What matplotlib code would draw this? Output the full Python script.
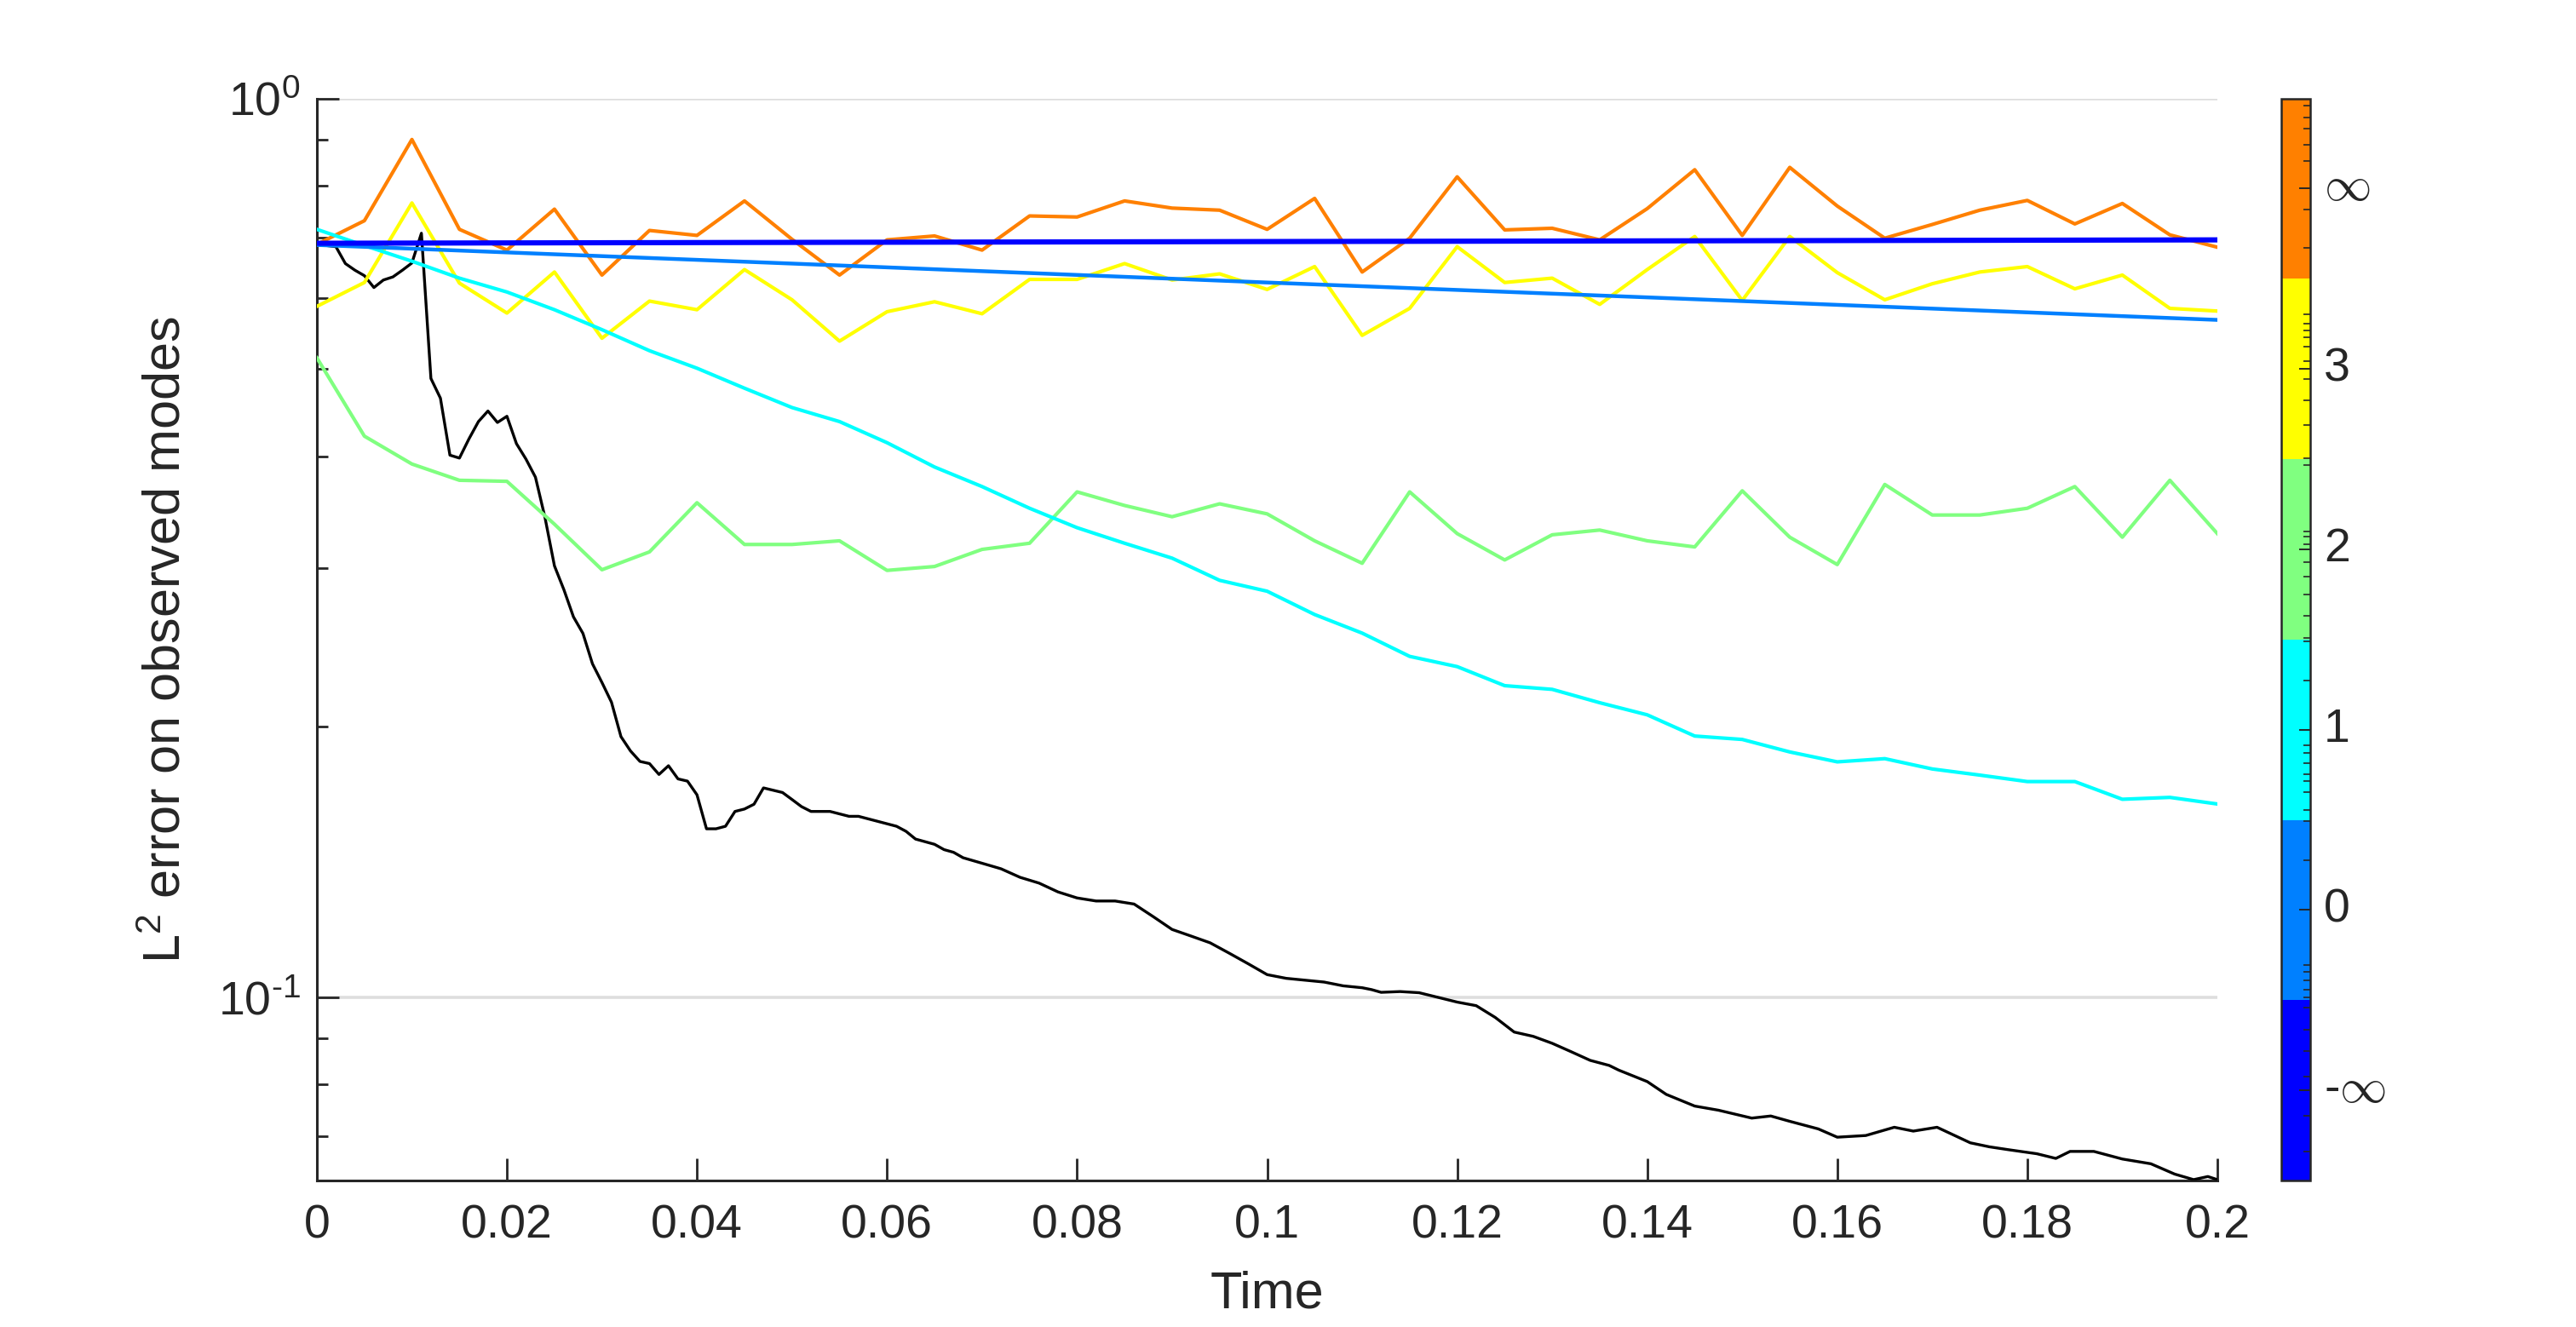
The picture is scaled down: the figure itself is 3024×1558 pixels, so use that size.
import numpy as np
import matplotlib
matplotlib.use("Agg")
import matplotlib.pyplot as plt
from matplotlib.colors import ListedColormap, BoundaryNorm
from matplotlib.cm import ScalarMappable
from matplotlib.ticker import FixedLocator, NullFormatter, LogLocator

plt.rcParams['font.family'] = ['Liberation Sans', 'DejaVu Sans']
plt.rcParams['mathtext.fontset'] = 'custom'
plt.rcParams['mathtext.rm'] = 'Liberation Sans'
plt.rcParams['mathtext.it'] = 'Liberation Sans:italic'
plt.rcParams['mathtext.bf'] = 'Liberation Sans:bold'

# ---------------- data ----------------
t_coarse = np.round(np.arange(41) * 0.005, 3)

err_inf = [0.688, 0.731, 0.900, 0.715, 0.678, 0.753, 0.636, 0.713, 0.704, 0.769,
           0.697, 0.636, 0.696, 0.703, 0.678, 0.740, 0.738, 0.769, 0.755, 0.751,
           0.715, 0.774, 0.641, 0.699, 0.818, 0.714, 0.717, 0.696, 0.754, 0.833,
           0.704, 0.838, 0.759, 0.699, 0.724, 0.751, 0.770, 0.725, 0.764, 0.705, 0.683]
err_3 = [0.587, 0.624, 0.765, 0.623, 0.577, 0.641, 0.541, 0.595, 0.582, 0.645,
         0.597, 0.537, 0.579, 0.594, 0.576, 0.629, 0.629, 0.655, 0.628, 0.638,
         0.613, 0.650, 0.545, 0.584, 0.684, 0.624, 0.631, 0.590, 0.645, 0.702,
         0.596, 0.702, 0.640, 0.597, 0.622, 0.641, 0.650, 0.614, 0.636, 0.584, 0.580]
err_2 = [0.5145, 0.421, 0.392, 0.376, 0.375, 0.336, 0.299, 0.313, 0.355, 0.319,
         0.319, 0.322, 0.2985, 0.3015, 0.315, 0.320, 0.365, 0.3525, 0.3425, 0.354,
         0.345, 0.322, 0.304, 0.365, 0.328, 0.3066, 0.327, 0.331, 0.322, 0.317,
         0.366, 0.325, 0.303, 0.372, 0.344, 0.344, 0.350, 0.370, 0.325, 0.376, 0.328]
err_1 = [0.715, 0.686, 0.659, 0.631, 0.609, 0.582, 0.553, 0.524, 0.501, 0.476,
         0.453, 0.437, 0.414, 0.389, 0.370, 0.350, 0.333, 0.320, 0.308, 0.291,
         0.283, 0.2666, 0.2542, 0.2395, 0.2333, 0.2222, 0.2201, 0.2127, 0.2062, 0.1953,
         0.1936, 0.1875, 0.1828, 0.1843, 0.1795, 0.1767, 0.1738, 0.1738, 0.1661, 0.1669, 0.1641]

t_0 = [0.0, 0.05, 0.1, 0.15, 0.2]
err_0 = [0.687, 0.655, 0.624, 0.595, 0.567]

t_minf = [0.0, 0.1, 0.2]
err_minf = [0.690, 0.693, 0.696]

t_black = [0.000, 0.001, 0.002, 0.003, 0.004, 0.005, 0.006, 0.007, 0.008, 0.009,
           0.010, 0.011, 0.012, 0.013, 0.014, 0.015, 0.016, 0.017, 0.018, 0.019,
           0.020, 0.021, 0.022, 0.023, 0.024, 0.025, 0.026, 0.027, 0.028, 0.029,
           0.030, 0.031, 0.032, 0.033, 0.034, 0.035, 0.036, 0.037, 0.038, 0.039,
           0.040, 0.041, 0.042, 0.043, 0.044, 0.045, 0.046, 0.047, 0.048, 0.049,
           0.050, 0.051, 0.052, 0.053, 0.054, 0.055, 0.056, 0.057, 0.058, 0.059,
           0.060, 0.061, 0.062, 0.063, 0.064, 0.065, 0.066, 0.067, 0.068, 0.069,
           0.070, 0.071, 0.072, 0.074, 0.076, 0.078, 0.080, 0.082, 0.084, 0.086,
           0.088, 0.090, 0.092, 0.094, 0.096, 0.098, 0.100, 0.102, 0.104, 0.106,
           0.108, 0.110, 0.111, 0.112, 0.114, 0.116, 0.118, 0.120, 0.122, 0.124,
           0.126, 0.128, 0.130, 0.132, 0.134, 0.136, 0.137, 0.140, 0.142, 0.145,
           0.1475, 0.151, 0.153, 0.155, 0.158, 0.160, 0.163, 0.166, 0.168, 0.1705,
           0.174, 0.176, 0.178, 0.181, 0.183, 0.1845, 0.187, 0.190, 0.193, 0.1955,
           0.1975, 0.199, 0.200]
err_black = [0.688, 0.686, 0.684, 0.655, 0.644, 0.635, 0.616, 0.628, 0.633, 0.644,
             0.656, 0.708, 0.488, 0.464, 0.401, 0.398, 0.418, 0.437, 0.449, 0.436,
             0.443, 0.413, 0.397, 0.379, 0.342, 0.302, 0.284, 0.265, 0.254, 0.235,
             0.224, 0.213, 0.195, 0.188, 0.183, 0.182, 0.177, 0.181, 0.175, 0.174,
             0.168, 0.154, 0.154, 0.155, 0.161, 0.162, 0.164, 0.171, 0.170, 0.169,
             0.166, 0.163, 0.161, 0.161, 0.161, 0.160, 0.159, 0.159, 0.158, 0.157,
             0.156, 0.155, 0.153, 0.150, 0.149, 0.148, 0.146, 0.145, 0.143, 0.142,
             0.141, 0.140, 0.139, 0.136, 0.134, 0.131, 0.129, 0.128, 0.128, 0.127,
             0.123, 0.119, 0.117, 0.115, 0.112, 0.109, 0.106, 0.105, 0.1045, 0.104,
             0.103, 0.1025, 0.102, 0.1013, 0.1015, 0.1012, 0.1000, 0.0988, 0.0979, 0.0950,
             0.0915, 0.0905, 0.0889, 0.0870, 0.0851, 0.0840, 0.0830, 0.0806, 0.0780, 0.0757,
             0.0749, 0.0734, 0.0738, 0.0728, 0.0714, 0.0699, 0.0702, 0.0717, 0.0710, 0.0717,
             0.0689, 0.0682, 0.0677, 0.0670, 0.0662, 0.0674, 0.0674, 0.0661, 0.0653, 0.0636,
             0.0627, 0.0632, 0.0627]

x_ticks = [0, 0.02, 0.04, 0.06, 0.08, 0.1, 0.12, 0.14, 0.16, 0.18, 0.2]
x_ticklabels = ['0', '0.02', '0.04', '0.06', '0.08', '0.1', '0.12', '0.14', '0.16', '0.18', '0.2']
cbar_labels = ['-$\\infty$', '0', '1', '2', '3', '$\\infty$']
cbar_colors = ['#0000ff', '#0080ff', '#00ffff', '#80ff80', '#ffff00', '#ff8000']
cbar_minor = [0.159, 0.359, 0.578, 0.718, 0.837, 0.957,
              1.017, 1.057, 1.108, 1.156, 1.196, 1.774, 1.994,
              2.053, 2.153, 2.213, 2.253, 2.313, 2.372, 2.412, 2.771, 2.990,
              3.010, 3.130, 3.250, 3.349, 3.429, 3.529, 3.569, 3.600, 3.967,
              4.007, 4.187, 4.326, 4.446, 4.545, 4.625, 4.673, 4.713, 4.753, 4.805,
              5.171, 5.383, 5.654, 5.742, 5.833, 5.893, 5.961]

# ---------------- figure ----------------
W, H = 3024, 1558
DPI = 200
fig = plt.figure(figsize=(W / DPI, H / DPI), dpi=DPI)
fig.patch.set_facecolor('white')

ax_l, ax_r, ax_t, ax_b = 372, 2603, 115.5, 1386
ax = fig.add_axes([ax_l / W, 1 - ax_b / H, (ax_r - ax_l) / W, (ax_b - ax_t) / H])

dark = '#262626'
ax.plot(t_black, err_black, color='black', lw=1.2, zorder=3)
ax.plot(t_coarse, err_inf, color=cbar_colors[5], lw=1.5, zorder=4)
ax.plot(t_coarse, err_3, color=cbar_colors[4], lw=1.5, zorder=4)
ax.plot(t_coarse, err_2, color=cbar_colors[3], lw=1.5, zorder=4)
ax.plot(t_coarse, err_1, color=cbar_colors[2], lw=1.5, zorder=4)
ax.plot(t_0, err_0, color=cbar_colors[1], lw=1.6, zorder=5)
ax.plot(t_minf, err_minf, color=cbar_colors[0], lw=2.2, zorder=6)

ax.set_yscale('log')
ax.set_xlim(0, 0.2)
ax.set_ylim(10 ** (-1.2037), 1.0)
ax.set_xticks(x_ticks)
ax.set_xticklabels(x_ticklabels)
ax.yaxis.set_major_locator(FixedLocator([0.1, 1.0]))
ax.yaxis.set_minor_locator(LogLocator(base=10, subs=np.arange(2, 10)))
ax.yaxis.set_minor_formatter(NullFormatter())
ax.set_yticklabels([r'$\mathdefault{10^{\text{-}1}}$', r'$\mathdefault{10^{0}}$'])

ax.grid(True, axis='y', which='major', color='#dedede', lw=1.3, zorder=0)
ax.set_axisbelow(True)
for s in ['top', 'right']:
    ax.spines[s].set_visible(False)
for s in ['left', 'bottom']:
    ax.spines[s].set_color(dark)
    ax.spines[s].set_linewidth(1.1)

ax.tick_params(axis='both', which='major', direction='in', length=9.4, width=1.0,
               color=dark, labelcolor=dark, labelsize=20)
ax.tick_params(axis='x', which='major', pad=10)
ax.tick_params(axis='y', which='major', pad=7)
ax.tick_params(axis='y', which='minor', direction='in', length=4.7, width=1.0, color=dark)
ax.tick_params(axis='x', which='minor', bottom=False)

ax.set_xlabel('Time', fontsize=22, color=dark)
ax.set_ylabel(r'$\mathregular{L^2}$ error on observed modes', fontsize=22, color=dark)
ax.xaxis.set_label_coords(0.5, -0.083)
ax.yaxis.set_label_coords(-0.066, 0.5)

# ---------------- colorbar ----------------
cb_l, cb_r = 2678, 2712
cax = fig.add_axes([cb_l / W, 1 - ax_b / H, (cb_r - cb_l) / W, (ax_b - ax_t) / H])
cmap = ListedColormap(cbar_colors)
norm = BoundaryNorm(np.arange(7), cmap.N)
sm = ScalarMappable(norm=norm, cmap=cmap)
cb = fig.colorbar(sm, cax=cax, ticks=np.arange(6) + 0.5)
cb.ax.set_yticklabels([])
cb.outline.set_edgecolor(dark)
cb.outline.set_linewidth(0.9)
cax.yaxis.set_minor_locator(FixedLocator(cbar_minor))
cax.tick_params(axis='y', which='major', direction='in', length=4.8, width=0.7,
                color=dark, right=True, left=False)
cax.tick_params(axis='y', which='minor', direction='in', length=3.0, width=0.6,
                color=dark, right=True, left=False)
for i, lab in enumerate(cbar_labels):
    cax.text(1.0 + 16 / (cb_r - cb_l), i + 0.5, lab,
             transform=cax.transData,
             ha='left', va='center', fontsize=20, color=dark, math_fontfamily='cm')

fig.savefig('out.png', dpi=DPI, facecolor='white')
